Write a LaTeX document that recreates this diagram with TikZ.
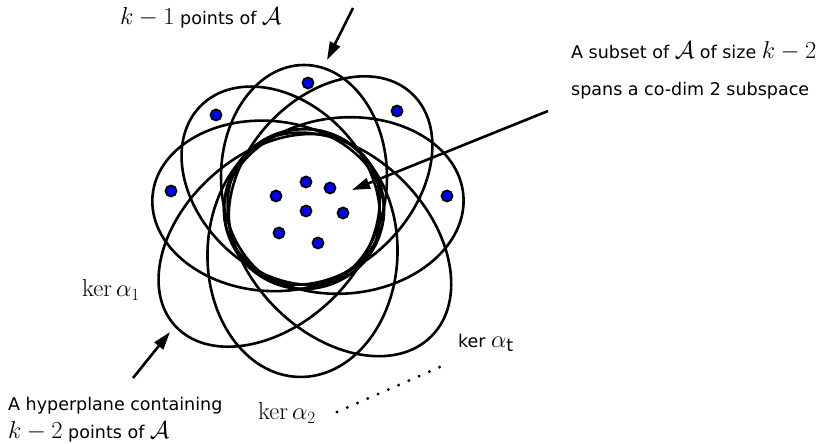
\RequirePackage{fix-cm}
\documentclass[tikz,border=0pt]{standalone}
\usepackage[no-math]{fontspec}
\setmainfont{DejaVu Sans}
\usepackage{amsmath}
\usepackage{amssymb}
\usetikzlibrary{arrows.meta,positioning,calc}

\newcommand{\mth}[1]{{\fontsize{24.5}{27}\selectfont$#1$}}

\begin{document}
\begin{tikzpicture}[x=1pt, y=1pt,
  ov/.style={draw, line width=2.6pt},
  pnt/.style={draw, circle, fill=blue, line width=1.8pt, minimum size=11pt, inner sep=0pt},
  lbl/.style={font=\fontsize{17.5}{20}\selectfont, inner sep=0pt},
  arr/.style={-{Triangle[length=18pt,width=11pt]}, line width=2.6pt},
  dts/.style={line width=3.2pt, line cap=round, dash pattern=on 0pt off 11.2pt}
]
\useasboundingbox (0,0) rectangle (830,444);

% centre of the co-dim 2 subspace and the hyperplanes round it
\coordinate (c) at (304,235);
\coordinate (e1) at (304,267);
\coordinate (e2) at (280.7,258.3);
\coordinate (e3) at (330.6,263.5);
\coordinate (e4) at (268.1,238.1);
\coordinate (e5) at (343.8,238.5);
\coordinate (e6) at (269.1,203.6);
\coordinate (e7) at (302.5,191);
\coordinate (e8) at (339.4,199.6);

\draw[ov] (c) circle (80);
\draw[ov, rotate around={90:(e1)}] (e1) ellipse [x radius=112, y radius=83];
\draw[ov, rotate around={135:(e2)}] (e2) ellipse [x radius=113, y radius=83];
\draw[ov, rotate around={47:(e3)}] (e3) ellipse [x radius=119, y radius=84];
\draw[ov, rotate around={175:(e4)}] (e4) ellipse [x radius=116, y radius=85];
\draw[ov, rotate around={5:(e5)}] (e5) ellipse [x radius=120, y radius=88];
\draw[ov, rotate around={222:(e6)}] (e6) ellipse [x radius=127, y radius=86];
\draw[ov, rotate around={268:(e7)}] (e7) ellipse [x radius=124, y radius=95];
\draw[ov, rotate around={315:(e8)}] (e8) ellipse [x radius=130, y radius=90];

% points of A
\node[pnt] (p1) at (308,361) {};
\node[pnt] (p2) at (216,329) {};
\node[pnt] (p3) at (397,333) {};
\node[pnt] (p4) at (171,253) {};
\node[pnt] (p5) at (447,248) {};
\node[pnt] (p6) at (306,262) {};
\node[pnt] (p7) at (330,256) {};
\node[pnt] (p8) at (276,248) {};
\node[pnt] (p9) at (306,233) {};
\node[pnt] (p10) at (343,231) {};
\node[pnt] (p11) at (279,211) {};
\node[pnt] (p12) at (318,201) {};

% labels
\node[lbl, anchor=base west] (top) at (120,419) {\mth{k-1}\ points of \mth{\mathcal{A}}};
\node[lbl, anchor=base west] (sub1) at (571,385) {A subset of \mth{\mathcal{A}}\ of size \mth{k-2}};
\node[lbl, anchor=base west] (sub2) at (571,348) {spans a co-dim 2 subspace};
\node[lbl, anchor=base west] (hyp1) at (8,33) {A hyperplane containing};
\node[lbl, anchor=base west] (hyp2) at (8,5) {\mth{k-2}\ points of\ \mth{\mathcal{A}}};
\node[lbl, anchor=base west] (k1) at (82,147) {\mth{\ker\alpha_1}};
\node[lbl, anchor=base west] (k2) at (258,24) {\mth{\ker\alpha_2}};
\node[lbl, anchor=base west] (kt) at (458,96) {ker \mth{\alpha_{\text{\fontsize{17.5}{20}\selectfont t}}}};

% arrows
\coordinate (ta) at (353,436);
\coordinate (tb) at (327,384);
\coordinate (ra) at (548,333);
\coordinate (rb) at (352,254);
\coordinate (la) at (133,66);
\coordinate (lb) at (170,112);
\coordinate (da) at (337,32);
\coordinate (db) at (440,77);
\draw[arr] (ta) -- (tb);
\draw[arr] (ra) -- (rb);
\draw[arr] (la) -- (lb);
\draw[dts] (da) -- (db);
\end{tikzpicture}
\end{document}
